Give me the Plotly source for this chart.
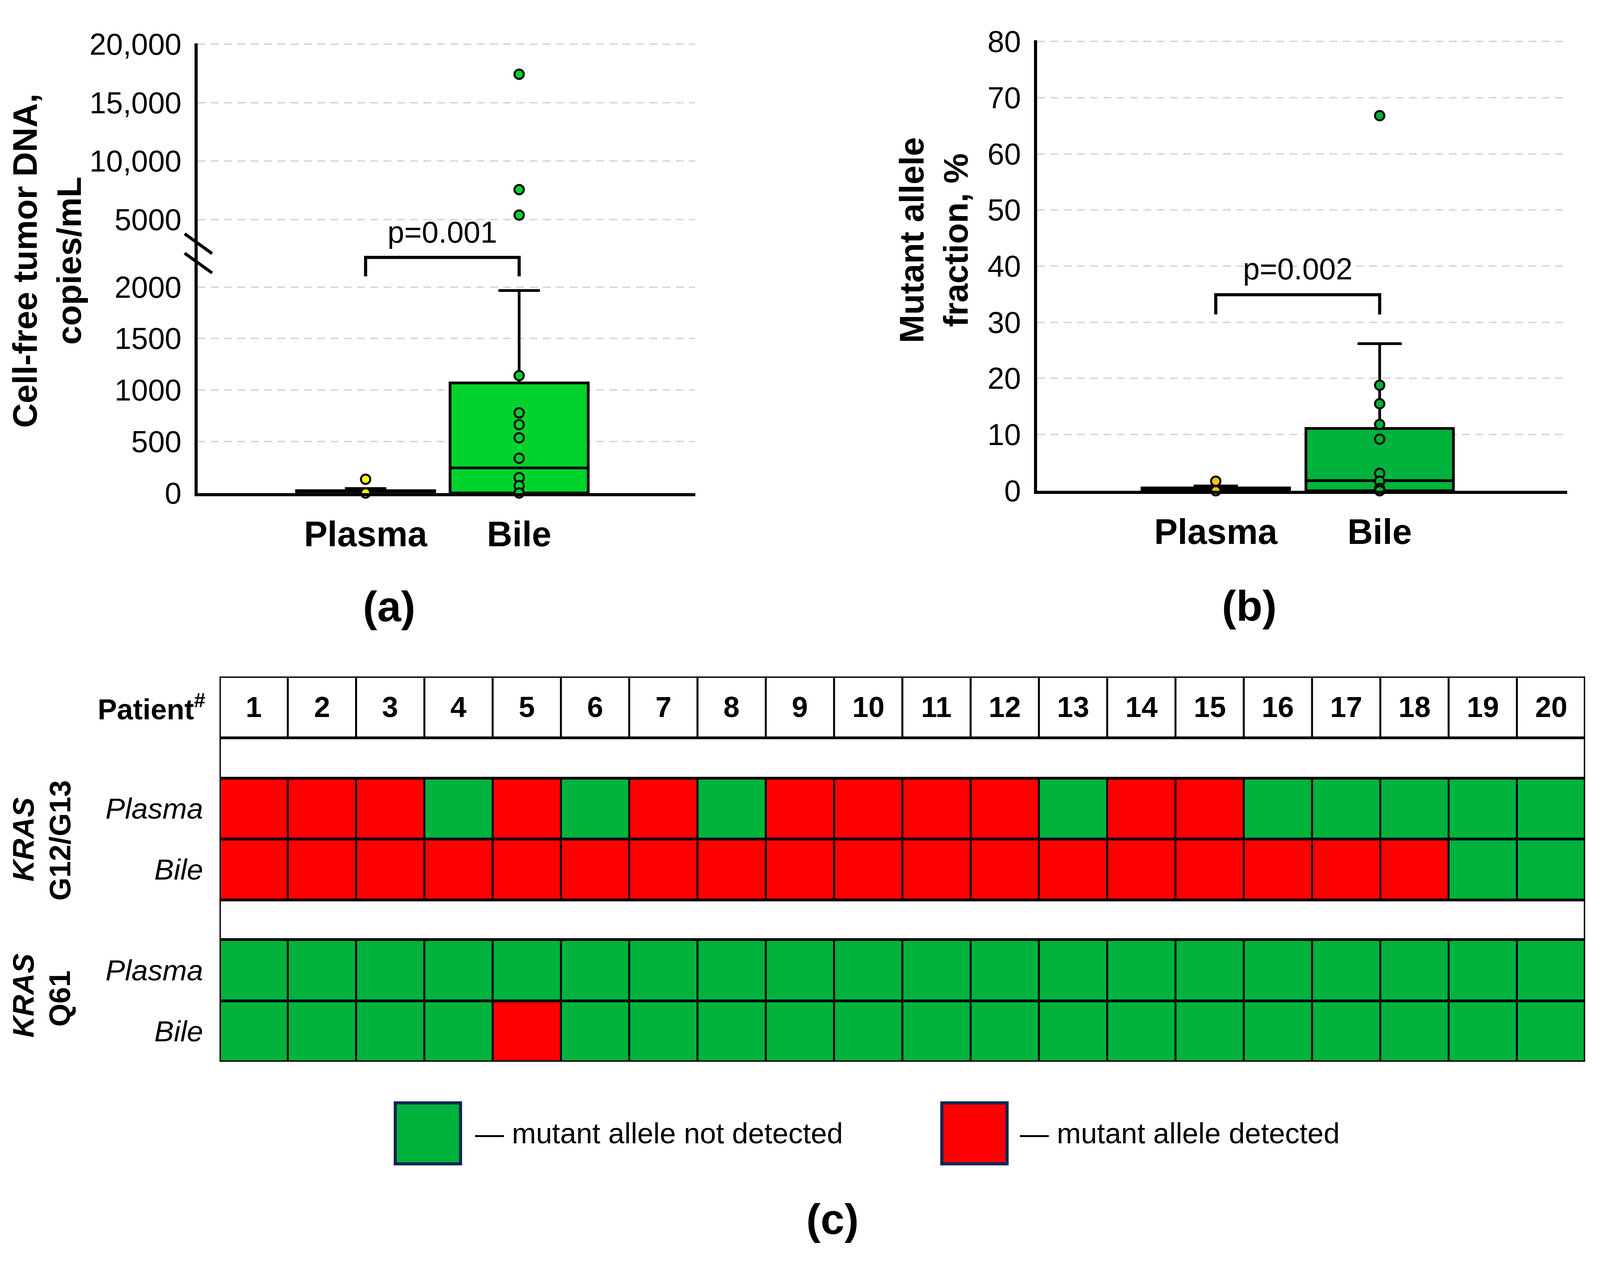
import plotly.graph_objects as go

W, H = 4315, 3263
FONT = "Liberation Sans, Arial, sans-serif"

# ---- panel (a): cell-free tumor DNA, copies/mL
groups = ["Plasma", "Bile"]
plasma_copies = [134, 0]
bile_copies = [17430, 7570, 5390, 1140, 779, 664, 536, 338, 150, 71, 0]
copies_q1 = [0, 0]
copies_median = [0, 244]
copies_q3 = [23, 1069]
copies_low = [0, 0]
copies_high = [44, 1966]
copies_p = "p=0.001"
copies_lower_ticks = [0, 500, 1000, 1500, 2000]
copies_lower_text = ["0", "500", "1000", "1500", "2000"]
copies_upper_ticks = [5000, 10000, 15000, 20000]
copies_upper_text = ["5000", "10,000", "15,000", "20,000"]

# ---- panel (b): mutant allele fraction, %
plasma_maf = [1.7, 0]
bile_maf = [66.8, 18.8, 15.5, 11.8, 9.2, 3.1, 1.7, 0.4, 0]
maf_q1 = [0, 0]
maf_median = [0, 1.8]
maf_q3 = [0.5, 11.1]
maf_low = [0, 0]
maf_high = [0.85, 26.2]
maf_p = "p=0.002"
maf_ticks = [0, 10, 20, 30, 40, 50, 60, 70, 80]

# ---- panel (c): 1 = mutant allele detected, 0 = not detected
patients = list(range(1, 21))
g12_plasma = [1, 1, 1, 0, 1, 0, 1, 0, 1, 1, 1, 1, 0, 1, 1, 0, 0, 0, 0, 0]
g12_bile = [1, 1, 1, 1, 1, 1, 1, 1, 1, 1, 1, 1, 1, 1, 1, 1, 1, 1, 0, 0]
q61_plasma = [0] * 20
q61_bile = [0, 0, 0, 0, 1, 0, 0, 0, 0, 0, 0, 0, 0, 0, 0, 0, 0, 0, 0, 0]

GREEN_A = "#00D42C"
GREEN = "#00B33C"
RED = "#FF0000"
GRID = "#D9D9D9"


def px(x):
    return x / W


def py(y):
    return 1 - y / H


def note(text, x, y, size, xref="paper", yref="paper", **kw):
    d = dict(text=text, x=x, y=y, xref=xref, yref=yref, showarrow=False,
             xanchor="center", yanchor="middle", font=dict(size=size))
    d.update(kw)
    return d


fig = go.Figure()

# lower / upper split of the broken axis in panel (a)
LOWER_MAX = 2329
UPPER_MIN = 2137

fig.add_trace(go.Box(
    x=groups, q1=copies_q1, median=copies_median, q3=copies_q3,
    lowerfence=copies_low, upperfence=copies_high,
    fillcolor=GREEN_A, line=dict(color="black", width=7),
    width=0.9, whiskerwidth=0.3, boxpoints=False,
    xaxis="x", yaxis="y", hoverinfo="skip"))

for name, vals, col in [("Plasma", plasma_copies, "#FFFF00"), ("Bile", bile_copies, GREEN_A)]:
    lo = [v for v in vals if v <= LOWER_MAX]
    hi = [v for v in vals if v > LOWER_MAX]
    mk = dict(size=24, color=col, line=dict(color="black", width=5))
    fig.add_trace(go.Scatter(x=[name] * len(lo), y=lo, mode="markers", marker=mk,
                             cliponaxis=False, xaxis="x", yaxis="y"))
    if hi:
        fig.add_trace(go.Scatter(x=[name] * len(hi), y=hi, mode="markers", marker=mk,
                                 cliponaxis=False, xaxis="x", yaxis="y2"))

fig.add_trace(go.Scatter(x=["Plasma", "Plasma", "Bile", "Bile"], y=[2104, 2288, 2288, 2104],
                         mode="lines", line=dict(color="black", width=8),
                         cliponaxis=False, xaxis="x", yaxis="y"))

# panel (b)
fig.add_trace(go.Box(
    x=groups, q1=maf_q1, median=maf_median, q3=maf_q3,
    lowerfence=maf_low, upperfence=maf_high,
    fillcolor=GREEN, line=dict(color="black", width=7),
    width=0.9, whiskerwidth=0.3, boxpoints=False,
    xaxis="x3", yaxis="y3", hoverinfo="skip"))

for name, vals, col in [("Plasma", plasma_maf, "#FFC000"), ("Bile", bile_maf, GREEN)]:
    fig.add_trace(go.Scatter(x=[name] * len(vals), y=vals, mode="markers",
                             marker=dict(size=24, color=col, line=dict(color="black", width=5)),
                             cliponaxis=False, xaxis="x3", yaxis="y3"))

fig.add_trace(go.Scatter(x=["Plasma", "Plasma", "Bile", "Bile"], y=[31.4, 34.9, 34.9, 31.4],
                         mode="lines", line=dict(color="black", width=8),
                         cliponaxis=False, xaxis="x3", yaxis="y3"))

# panel (c) heatmap: header, spacer, G12 plasma, G12 bile, spacer, Q61 plasma, Q61 bile
ROW_EDGES = [0, 161, 267, 427, 587, 691, 852, 1012]
header = [2] * len(patients)
spacer = [None] * len(patients)
z = [header, spacer, g12_plasma, g12_bile, spacer, q61_plasma, q61_bile]
fig.add_trace(go.Heatmap(
    x=patients, y=ROW_EDGES, z=z, zmin=0, zmax=2,
    colorscale=[[0, GREEN], [0.33, GREEN], [0.33, RED], [0.67, RED], [0.67, "white"], [1, "white"]],
    showscale=False, hoverinfo="skip", xaxis="x4", yaxis="y4"))

shapes = []
# vertical lines inside the bordered blocks
for top, bot in [(ROW_EDGES[0], ROW_EDGES[1]), (ROW_EDGES[2], ROW_EDGES[4]), (ROW_EDGES[5], ROW_EDGES[7])]:
    for k in range(1, len(patients)):
        shapes.append(dict(type="line", xref="x4", yref="y4", x0=k + 0.5, x1=k + 0.5,
                           y0=top, y1=bot, line=dict(color="black", width=5)))
for e in ROW_EDGES:
    shapes.append(dict(type="line", xref="x4", yref="y4", x0=0.5, x1=len(patients) + 0.5,
                       y0=e, y1=e, line=dict(color="black", width=7)))
for xe in [0.5, len(patients) + 0.5]:
    shapes.append(dict(type="line", xref="x4", yref="y4", x0=xe, x1=xe,
                       y0=ROW_EDGES[0], y1=ROW_EDGES[-1], line=dict(color="black", width=7)))

# axis break marks on panel (a)
for y0 in [572, 623]:
    shapes.append(dict(type="line", xref="paper", yref="paper", x0=px(498), x1=px(572),
                       y0=py(y0), y1=py(y0 + 52), line=dict(color="black", width=8)))

# legend swatches
for x0, col in [(1066, GREEN), (2540, RED)]:
    shapes.append(dict(type="rect", xref="paper", yref="paper", x0=px(x0), x1=px(x0 + 176),
                       y0=py(3015), y1=py(2855), fillcolor=col,
                       line=dict(color="#0E2850", width=8)))

ann = [
    note(copies_p, 0.5, 3926, 77, xref="x", yref="y2"),
    note(maf_p, 0.5, 39.5, 77, xref="x3", yref="y3"),
    note("<b>Cell-free tumor DNA,<br>copies/mL</b>", px(127), py(643), 87, textangle=-90),
    note("<b>Mutant allele<br>fraction, %</b>", px(2518), py(589), 87, textangle=-90),
]
for t, x, y in [("(a)", 1049, 1550), ("(b)", 3369, 1548), ("(c)", 2245, 3160)]:
    ann.append(note(f"<b>{t}</b>", px(x), py(y), 110))

header_mid = (ROW_EDGES[0] + ROW_EDGES[1]) / 2
for p in patients:
    ann.append(note(f"<b>{p}</b>", p, header_mid, 74, xref="x4", yref="y4"))
ann.append(note("<b>Patient<sup>#</sup></b>", px(556), header_mid, 74, yref="y4", xanchor="right"))
for i, lab in [(2, "Plasma"), (3, "Bile"), (5, "Plasma"), (6, "Bile")]:
    mid = (ROW_EDGES[i] + ROW_EDGES[i + 1]) / 2
    ann.append(note(f"<i>{lab}</i>", px(550), mid, 75, yref="y4", xanchor="right"))
for line1_y, line2, line2_y in [(2163, "G12/G13", 2166), (2573, "Q61", 2581)]:
    ann.append(note("<b><i>KRAS</i></b>", px(63), py(line1_y), 76, textangle=-90))
    ann.append(note(f"<b>{line2}</b>", px(161), py(line2_y), 76, textangle=-90))

ann.append(note("— mutant allele not detected", px(1279), py(2935), 74, xanchor="left"))
ann.append(note("— mutant allele detected", px(2749), py(2935), 74, xanchor="left"))

yax = dict(showline=True, linecolor="black", linewidth=8, ticks="", zeroline=False,
           showgrid=True, gridcolor=GRID, gridwidth=4, griddash="20px,14px",
           tickfont=dict(size=77), ticklabelstandoff=18, fixedrange=True)
xax = dict(type="category", categoryorder="array", categoryarray=groups,
           showline=True, linecolor="black", linewidth=8, ticks="", showgrid=False,
           zeroline=False, tickfont=dict(size=90, weight="bold"), ticklabelstandoff=20)

fig.update_layout(
    autosize=True, margin=dict(l=0, r=0, t=0, b=0),
    paper_bgcolor="white", plot_bgcolor="white", showlegend=False,
    font=dict(family=FONT, color="black"),
    xaxis=dict(xax, domain=[px(533), px(1875)], range=[-1.094, 2.147], anchor="y"),
    yaxis=dict(yax, domain=[py(1253), py(623)], range=[0, LOWER_MAX], anchor="x",
               tickvals=copies_lower_ticks, ticktext=copies_lower_text),
    yaxis2=dict(yax, domain=[py(623), py(72)], range=[UPPER_MIN, 20060], anchor="x",
                tickvals=copies_upper_ticks, ticktext=copies_upper_text),
    xaxis3=dict(xax, domain=[px(2797), px(4226)], range=[-1.09, 2.143], anchor="y3"),
    yaxis3=dict(yax, domain=[py(1247), py(64)], range=[0, 80.2], anchor="x3",
                tickvals=maf_ticks),
    xaxis4=dict(domain=[px(592), px(4275)], range=[0.5, 20.5], visible=False, anchor="y4"),
    yaxis4=dict(domain=[py(2747), py(1735)], range=[ROW_EDGES[-1], ROW_EDGES[0]],
                visible=False, anchor="x4"),
    shapes=shapes, annotations=ann,
)

# fill the browser window exactly, whatever its css size
fig.write_html("out.html", config={"fillFrame": True, "displayModeBar": False},
               post_script="document.body.style.margin='0px';")
